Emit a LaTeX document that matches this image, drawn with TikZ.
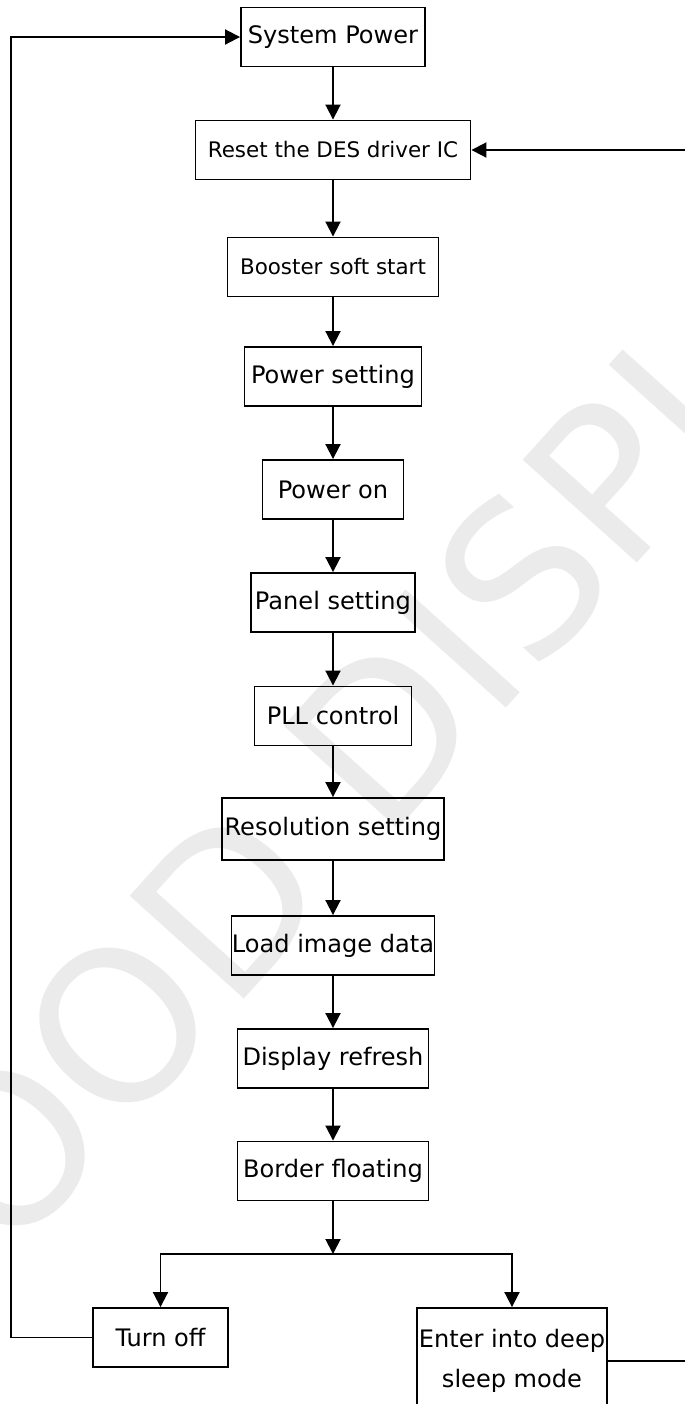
\documentclass[tikz,border=0pt]{standalone}
\usepackage{fontspec}
\setmainfont{DejaVu Sans}
\usetikzlibrary{arrows.meta}

\begin{document}
\begin{tikzpicture}[x=0.02cm,y=-0.02cm,line width=1.1pt,
  box/.style={draw,minimum height=1.18cm,inner sep=0pt,font=\fontsize{13.7}{16}\selectfont},
  smallbox/.style={box,font=\fontsize{12.2}{14}\selectfont},
  flow/.style={-{Triangle[length=0.3cm,width=0.3cm]}}]
\useasboundingbox (0,0) rectangle (685,1404);
\node[rotate=48,text=black!8,font=\fontsize{120}{120}\selectfont] (mark) at (374,741) {GOOD DISPLAY};
\node[box,minimum width=3.68cm] (sys) at (333,37) {System Power};
\node[smallbox,minimum width=5.5cm] (reset) at (333,150) {Reset the DES driver IC};
\node[smallbox,minimum width=4.22cm] (boost) at (333,267) {Booster soft start};
\node[box,minimum width=3.54cm] (pset) at (333,376.5) {Power setting};
\node[box,minimum width=2.82cm] (pon) at (333,489.5) {Power on};
\node[box,minimum width=3.28cm] (panel) at (333,602.5) {Panel setting};
\node[box,minimum width=3.14cm] (pll) at (333,716) {PLL control};
\node[box,minimum width=4.44cm,minimum height=1.24cm] (res) at (333,829) {Resolution setting};
\node[box,minimum width=4.06cm] (load) at (333,945.5) {Load image data};
\node[box,minimum width=3.82cm] (disp) at (333,1058.5) {Display refresh};
\node[box,minimum width=3.82cm] (border) at (333,1171) {Border floating};
\node[box,minimum width=2.7cm] (off) at (160.5,1337.5) {Turn off};
\node[box,minimum width=3.8cm,minimum height=2.12cm,align=center,
  font=\fontsize{13.7}{22.8}\selectfont] (sleep) at (512,1361) {Enter into deep\\sleep mode};
\coordinate (split) at (333,1254);
\coordinate (leftrail) at (11,0);
\coordinate (rightrail) at (690,0);
\foreach \a/\b in {sys/reset,reset/boost,boost/pset,pset/pon,pon/panel,panel/pll,pll/res,res/load,load/disp,disp/border}
  \draw[flow] (\a) -- (\b);
\draw[flow] (border) -- (split);
\draw[flow] (split) -| (off);
\draw[flow] (split) -| (sleep);
\draw[flow] (off.west) -- (off.west -| leftrail) |- (sys.west);
\draw[flow] (sleep.east) -- (sleep.east -| rightrail) |- (reset.east);
\end{tikzpicture}
\end{document}
